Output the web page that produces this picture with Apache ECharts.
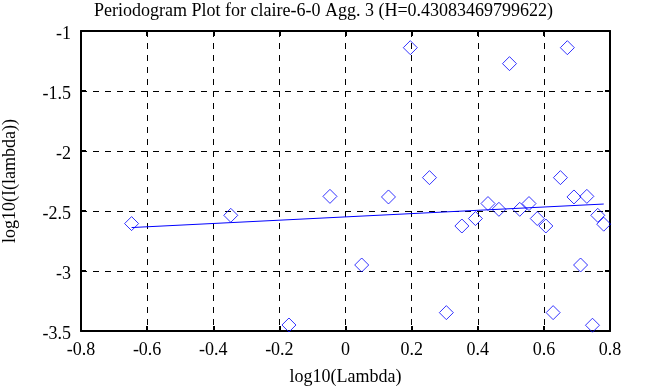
<!DOCTYPE html>
<html><head><meta charset="utf-8">
<script src="https://cdn.jsdelivr.net/npm/echarts@6/dist/echarts.min.js"></script>
<style>html,body{margin:0;padding:0;background:#fff}#c{width:647px;height:387px}</style>
</head><body><div id="c"></div>
<script>
const titleText = "Periodogram Plot for claire-6-0 Agg. 3 (H=0.43083469799622)";
const xLabel = "log10(Lambda)";
const yLabel = "log10(I(lambda))";
const pointX = [-0.647,-0.347,-0.047,0.049,-0.171,0.130,0.254,0.305,0.352,0.393,0.431,0.464,0.527,0.555,0.580,0.606,0.628,0.650,0.691,0.711,0.730,0.747,0.763,0.781,0.196,0.496,0.671];
const pointY = [-2.605,-2.536,-2.378,-2.950,-3.450,-2.383,-2.222,-3.347,-2.625,-2.563,-2.438,-2.486,-2.486,-2.438,-2.563,-2.625,-3.347,-2.222,-2.383,-2.950,-2.378,-3.452,-2.536,-2.610,-1.139,-1.272,-1.139];
const fitX = [-0.647, 0.781];
const fitY = [-2.638, -2.442];

const font = "'Liberation Serif', 'DejaVu Serif', serif";
const chart = echarts.init(document.getElementById('c'), null, {renderer:'canvas'});
const gridLine = {show:true, lineStyle:{color:'#000', type:[6,6], width:1}};
const axisLine = {show:true, onZero:false, lineStyle:{color:'#000', width:2}};
chart.setOption({
  animation:false,
  title:{text:titleText, left:'center', top:-3, textStyle:{fontFamily:font, fontWeight:'normal', fontSize:18, color:'#000'}},
  grid:{left:81, right:37, top:31, bottom:56, containLabel:false, outerBoundsMode:'none'},
  xAxis:[
    {type:'value', min:-0.8, max:0.8, interval:0.2, axisLine, axisTick:{inside:true, length:5, lineStyle:{color:'#000',width:2}},
     splitLine:gridLine, axisLabel:{color:'#000', fontFamily:font, fontSize:18, margin:10, formatter:v=>String(Math.round(v*10)/10)},
     name:xLabel, nameLocation:'middle', nameGap:37, nameTextStyle:{fontFamily:font, fontSize:18, color:'#000'}},
    {type:'value', position:'top', min:-0.8, max:0.8, interval:0.2, axisLine, axisTick:{inside:true, length:5, lineStyle:{color:'#000',width:2}}, axisLabel:{show:false}, splitLine:{show:false}}
  ],
  yAxis:[
    {type:'value', min:-3.5, max:-1, interval:0.5, axisLine, axisTick:{inside:true, length:5, lineStyle:{color:'#000',width:2}},
     splitLine:gridLine, axisLabel:{color:'#000', fontFamily:font, fontSize:18, margin:10, verticalAlign:'top', padding:[-6,0,0,0]},
     name:yLabel, nameLocation:'middle', nameGap:62, nameTextStyle:{fontFamily:font, fontSize:18, color:'#000'}},
    {type:'value', position:'right', min:-3.5, max:-1, interval:0.5, axisLine, axisTick:{inside:true, length:5, lineStyle:{color:'#000',width:2}}, axisLabel:{show:false}, splitLine:{show:false}}
  ],
  series:[
    {type:'scatter', symbol:'diamond', symbolSize:14, data:pointX.map((x,i)=>[x,pointY[i]]),
     itemStyle:{color:'rgba(0,0,0,0)', borderColor:'#0000ff', borderWidth:1}},
    {type:'line', data:fitX.map((x,i)=>[x,fitY[i]]), symbol:'none', lineStyle:{color:'#0000ff', width:1}}
  ]
});
</script></body></html>
